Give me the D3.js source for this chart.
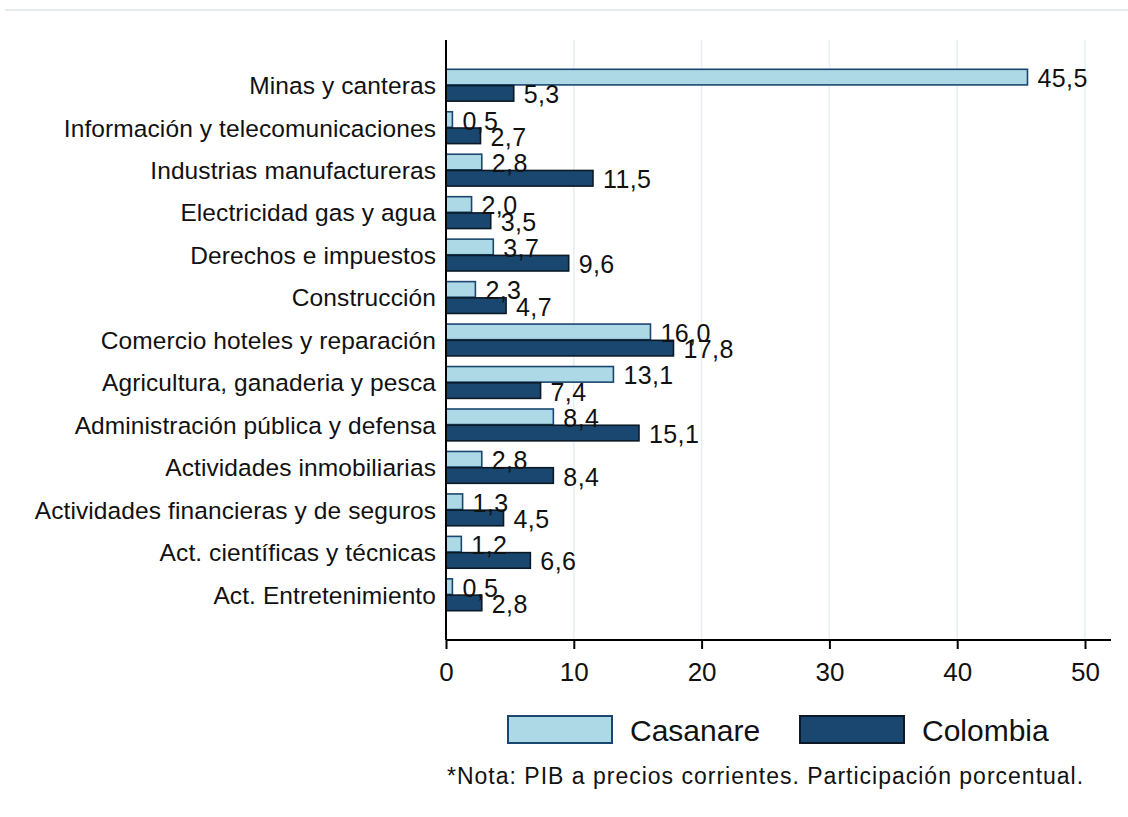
<!DOCTYPE html>
<html>
<head>
<meta charset="utf-8">
<script src="https://cdn.jsdelivr.net/npm/d3@7"></script>
<style>
  html, body { margin: 0; padding: 0; background: #fff; }
  svg { display: block; font-family: "Liberation Sans", Arial, sans-serif; }
</style>
</head>
<body>
<div id="chart"></div>
<script>
const categories = [
  "Minas y canteras",
  "Información y telecomunicaciones",
  "Industrias manufactureras",
  "Electricidad gas y agua",
  "Derechos e impuestos",
  "Construcción",
  "Comercio hoteles y reparación",
  "Agricultura, ganaderia y pesca",
  "Administración pública y defensa",
  "Actividades inmobiliarias",
  "Actividades financieras y de seguros",
  "Act. científicas y técnicas",
  "Act. Entretenimiento",
];
const casanare = [45.5, 0.5, 2.8, 2.0, 3.7, 2.3, 16.0, 13.1, 8.4, 2.8, 1.3, 1.2, 0.5];
const colombia = [5.3, 2.7, 11.5, 3.5, 9.6, 4.7, 17.8, 7.4, 15.1, 8.4, 4.5, 6.6, 2.8];
const seriesNames = ["Casanare", "Colombia"];
const xTicks = [0, 10, 20, 30, 40, 50];
const note = "*Nota: PIB a precios corrientes. Participación porcentual.";

const width = 1128, height = 817;
const plot = { left: 446, right: 1085, axisEnd: 1111, top: 40, bottom: 640 };

const fills = { Casanare: "#add8e6", Colombia: "#1a476f" };
const strokes = { Casanare: "#1a476f", Colombia: "#0b1a26" };
const ink = "#111";

const svg = d3.select("#chart")
  .append("svg")
  .attr("width", width)
  .attr("height", height);

// faint frame line at the very top
svg.append("line")
  .attr("x1", 5).attr("x2", width)
  .attr("y1", 10).attr("y2", 10)
  .attr("stroke", "#e4ecee")
  .attr("stroke-width", 2);

const x = d3.scaleLinear().domain([0, 50]).range([plot.left, plot.right]);

const y = d3.scaleBand()
  .domain(categories)
  .range([plot.top, plot.bottom])
  .paddingInner(0.25)
  .paddingOuter(0.69);

const ySub = d3.scaleBand()
  .domain(seriesNames)
  .range([0, y.bandwidth()])
  .paddingInner(0.04);

// gridlines
svg.append("g")
  .selectAll("line")
  .data(xTicks.filter((d) => d > 0))
  .join("line")
  .attr("x1", (d) => x(d)).attr("x2", (d) => x(d))
  .attr("y1", plot.top).attr("y2", plot.bottom)
  .attr("stroke", "#e6eff1")
  .attr("stroke-width", 1.5);

const data = categories.flatMap((c, i) => [
  { cat: c, series: "Casanare", value: casanare[i] },
  { cat: c, series: "Colombia", value: colombia[i] },
]);

// bars
svg.append("g")
  .selectAll("rect")
  .data(data)
  .join("rect")
  .attr("x", x(0))
  .attr("y", (d) => y(d.cat) + ySub(d.series))
  .attr("width", (d) => x(d.value) - x(0))
  .attr("height", ySub.bandwidth())
  .attr("fill", (d) => fills[d.series])
  .attr("stroke", (d) => strokes[d.series])
  .attr("stroke-width", 1.6);

// value labels
const fmt = (v) => d3.format(".1f")(v).replace(".", ",");
svg.append("g")
  .selectAll("text")
  .data(data)
  .join("text")
  .attr("x", (d) => x(d.value) + 10)
  .attr("y", (d) => y(d.cat) + ySub(d.series) + ySub.bandwidth() / 2 + 1)
  .attr("dy", "0.36em")
  .attr("font-size", 25)
  .attr("letter-spacing", 0.4)
  .attr("fill", ink)
  .text((d) => fmt(d.value));

// category labels
svg.append("g")
  .selectAll("text")
  .data(categories)
  .join("text")
  .attr("x", plot.left - 10)
  .attr("y", (d) => y(d) + y.bandwidth() / 2)
  .attr("dy", "0.36em")
  .attr("text-anchor", "end")
  .attr("font-size", 24.5)
  .attr("letter-spacing", 0.1)
  .attr("fill", ink)
  .text((d) => d);

// y axis line
svg.append("line")
  .attr("x1", plot.left).attr("x2", plot.left)
  .attr("y1", plot.top).attr("y2", plot.bottom)
  .attr("stroke", "#000")
  .attr("stroke-width", 2);

// x axis
const xAxis = svg.append("g")
  .attr("transform", `translate(0,${plot.bottom})`)
  .call(d3.axisBottom(x).tickValues(xTicks).tickSize(9).tickPadding(14));
xAxis.select(".domain")
  .attr("d", `M${plot.left},0H${plot.axisEnd}`)
  .attr("stroke", "#000")
  .attr("stroke-width", 2);
xAxis.selectAll(".tick line").attr("stroke", "#000").attr("stroke-width", 2);
xAxis.selectAll(".tick text")
  .attr("font-family", "Liberation Sans, Arial, sans-serif")
  .attr("font-size", 26)
  .attr("fill", ink);

// legend
const legend = svg.append("g")
  .selectAll("g")
  .data(seriesNames)
  .join("g")
  .attr("transform", (d, i) => `translate(${508 + i * 292},716)`);
legend.append("rect")
  .attr("width", 104)
  .attr("height", 27)
  .attr("fill", (d) => fills[d])
  .attr("stroke", (d) => strokes[d])
  .attr("stroke-width", 2);
legend.append("text")
  .attr("x", 122)
  .attr("y", 14)
  .attr("dy", "0.36em")
  .attr("font-size", 30)
  .attr("fill", ink)
  .text((d) => d);

// note
svg.append("text")
  .attr("x", 447)
  .attr("y", 784)
  .attr("font-size", 23)
  .attr("letter-spacing", 1.0)
  .attr("fill", ink)
  .text(note);
</script>
</body>
</html>
